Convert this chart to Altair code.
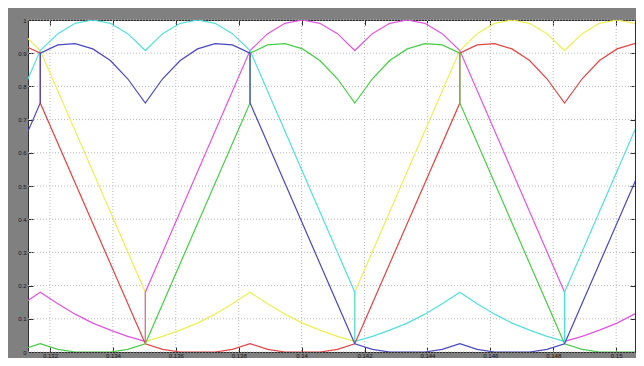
import altair as alt
import pandas as pd

# time grid (s): 6 sub-steps per 1/300 s switching interval
T = [0.12836, 0.12892, 0.12947, 0.13003, 0.13058, 0.13114,
     0.13169, 0.13225, 0.13280, 0.13336, 0.13392, 0.13447,
     0.13503, 0.13558, 0.13614, 0.13669, 0.13725, 0.13780,
     0.13836, 0.13892, 0.13947, 0.14003, 0.14058, 0.14114,
     0.14169, 0.14225, 0.14280, 0.14336, 0.14392, 0.14447,
     0.14503, 0.14558, 0.14614, 0.14669, 0.14725, 0.14780,
     0.14836, 0.14892, 0.14947, 0.15003, 0.15058, 0.15114,
     0.15169]

_ = None  # straight segment: no intermediate sample
# tuples = vertical step at that instant (before, after)
red = [0.750, 0.823, 0.878, 0.913, 0.929, 0.925,
       (0.900, 0.750), _, _, _, _, _,
       0.025, 0.008, 0.0, 0.0, 0.0, 0.008,
       0.025, 0.008, 0.0, 0.0, 0.0, 0.008,
       0.025, _, _, _, _, _,
       (0.750, 0.900), 0.925, 0.929, 0.913, 0.878, 0.823,
       0.750, 0.823, 0.878, 0.913, 0.929, 0.925,
       0.900]
green = [0.025, 0.008, 0.0, 0.0, 0.0, 0.008,
         0.025, 0.008, 0.0, 0.0, 0.0, 0.008,
         0.025, _, _, _, _, _,
         (0.750, 0.900), 0.925, 0.929, 0.913, 0.878, 0.823,
         0.750, 0.823, 0.878, 0.913, 0.929, 0.925,
         (0.900, 0.750), _, _, _, _, _,
         0.025, 0.008, 0.0, 0.0, 0.0, 0.008,
         0.025]
blue = [0.025, _, _, _, _, _,
        (0.750, 0.900), 0.925, 0.929, 0.913, 0.878, 0.823,
        0.750, 0.823, 0.878, 0.913, 0.929, 0.925,
        (0.900, 0.750), _, _, _, _, _,
        0.025, 0.008, 0.0, 0.0, 0.0, 0.008,
        0.025, 0.008, 0.0, 0.0, 0.0, 0.008,
        0.025, _, _, _, _, _,
        (0.750, 0.900)]
cyan = [0.180, _, _, _, _, _,
        0.908, 0.959, 0.990, 1.000, 0.990, 0.959,
        0.908, 0.959, 0.990, 1.000, 0.990, 0.959,
        0.908, _, _, _, _, _,
        (0.180, 0.032), 0.047, 0.066, 0.087, 0.114, 0.145,
        0.180, 0.145, 0.114, 0.087, 0.066, 0.047,
        (0.032, 0.180), _, _, _, _, _,
        0.908]
magenta = [0.032, 0.047, 0.066, 0.087, 0.114, 0.145,
           0.180, 0.145, 0.114, 0.087, 0.066, 0.047,
           (0.032, 0.180), _, _, _, _, _,
           0.908, 0.959, 0.990, 1.000, 0.990, 0.959,
           0.908, 0.959, 0.990, 1.000, 0.990, 0.959,
           0.908, _, _, _, _, _,
           (0.180, 0.032), 0.047, 0.066, 0.087, 0.114, 0.145,
           0.180]
yellow = [0.908, 0.959, 0.990, 1.000, 0.990, 0.959,
          0.908, _, _, _, _, _,
          (0.180, 0.032), 0.047, 0.066, 0.087, 0.114, 0.145,
          0.180, 0.145, 0.114, 0.087, 0.066, 0.047,
          (0.032, 0.180), _, _, _, _, _,
          0.908, 0.959, 0.990, 1.000, 0.990, 0.959,
          0.908, 0.959, 0.990, 1.000, 0.990, 0.959,
          0.908]

SERIES = ["yellow", "magenta", "cyan", "red", "green", "blue"]
VALUES = [yellow, magenta, cyan, red, green, blue]
COLORS = ["#eeee55", "#e055e0", "#55dede", "#e04545", "#48cc48", "#4848c0"]

X_TICKS = [0.132, 0.134, 0.136, 0.138, 0.14, 0.142, 0.144, 0.146, 0.148, 0.15]
Y_TICKS = [0, 0.1, 0.2, 0.3, 0.4, 0.5, 0.6, 0.7, 0.8, 0.9, 1]
X_DOMAIN = [0.1313, 0.1506]

rows = []
for name, vals in zip(SERIES, VALUES):
    n = 0
    for t, v in zip(T, vals):
        if v is None:
            continue
        for y in (v if isinstance(v, tuple) else (v,)):
            rows.append({"s": name, "t": t, "v": y, "o": n})
            n += 1
df = pd.DataFrame(rows)

xs = alt.Scale(domain=X_DOMAIN, nice=False, zero=False)
ys = alt.Scale(domain=[0, 1], nice=False, zero=False)

GRID = "#b8b8b8"
TICK = "#262626"
FONT = "Liberation Sans"

grid_x = alt.Chart(pd.DataFrame({"t": X_TICKS})).mark_rule(
    color=GRID, strokeDash=[1, 2], strokeWidth=1
).encode(
    x=alt.X("t:Q", scale=xs, axis=alt.Axis(
        orient="top", labels=False, grid=False, domain=False, ticks=True,
        tickSize=5, offset=-5, values=X_TICKS, title=None, tickColor=TICK))
)
grid_y = alt.Chart(pd.DataFrame({"v": Y_TICKS})).mark_rule(
    color=GRID, strokeDash=[1, 2], strokeWidth=1
).encode(
    y=alt.Y("v:Q", scale=ys, axis=alt.Axis(
        orient="right", labels=False, grid=False, domain=False, ticks=True,
        tickSize=5, offset=-5, values=Y_TICKS, title=None, tickColor=TICK))
)

lines = alt.Chart(df).mark_line(strokeWidth=1.2, clip=True).encode(
    x=alt.X("t:Q", scale=xs, axis=alt.Axis(
        orient="bottom", values=X_TICKS, format=".3~f", grid=False, domain=False,
        tickSize=5, offset=-5, labelPadding=0, title=None, tickColor=TICK,
        labelFontSize=6, labelColor="#151515", labelFont=FONT)),
    y=alt.Y("v:Q", scale=ys, axis=alt.Axis(
        orient="left", values=Y_TICKS, format=".1~f", grid=False, domain=False,
        tickSize=5, offset=-5, labelPadding=2, title=None, tickColor=TICK,
        labelFontSize=6, labelColor="#151515", labelFont=FONT)),
    color=alt.Color("s:N", scale=alt.Scale(domain=SERIES, range=COLORS), legend=None),
    order=alt.Order("o:Q"),
)

chart = alt.layer(grid_x, grid_y, lines).resolve_axis(
    x="independent", y="independent"
).properties(
    width=607, height=332,
    padding={"left": 20, "top": 12, "right": 1, "bottom": 6},
    autosize=alt.AutoSizeParams(type="none"),
    background="#808080",
).configure_view(
    fill="white", stroke="#2e2e2e", strokeWidth=1
)

chart.save("out.html", embed_options={"renderer": "svg", "actions": False})
